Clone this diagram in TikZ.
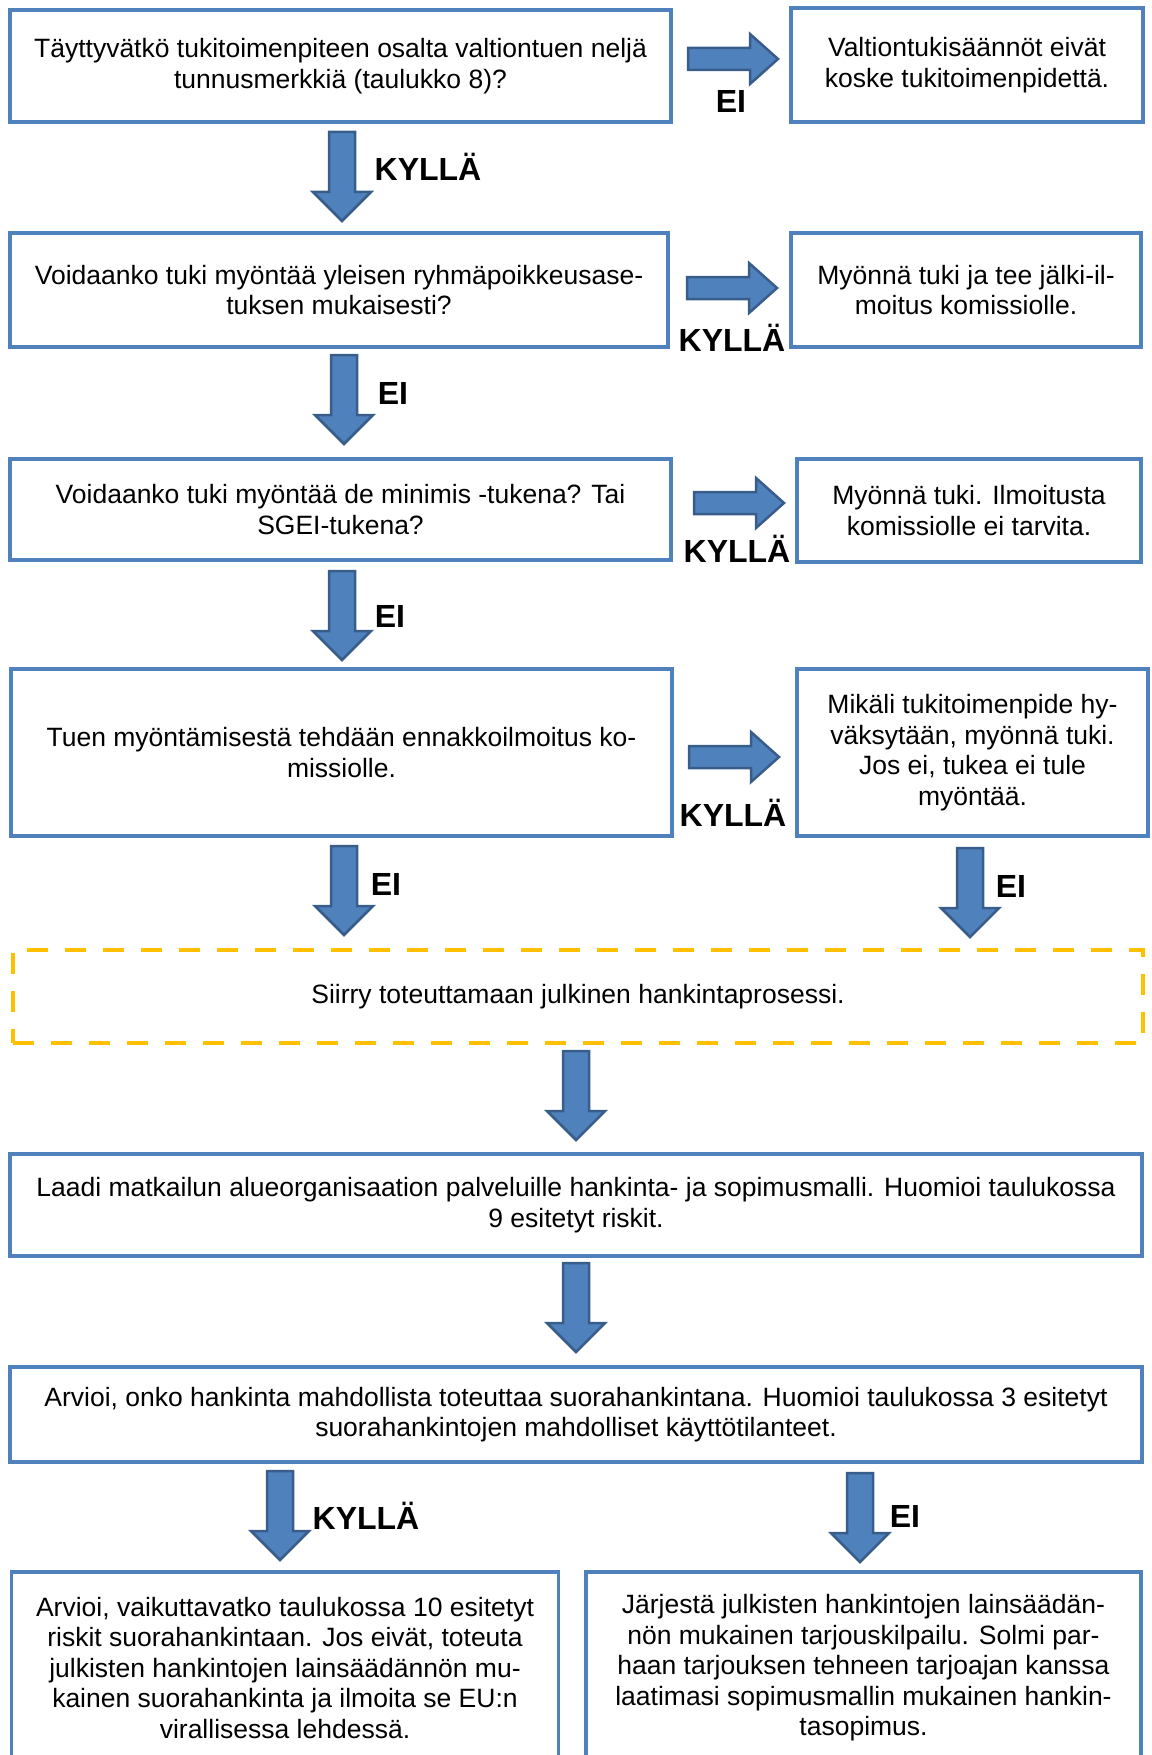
\documentclass[tikz,border=0pt]{standalone}
\usepackage{fontspec}
\setmainfont{Liberation Sans}
\usetikzlibrary{positioning}

\definecolor{boxblue}{HTML}{4F81BD}
\definecolor{arrowedge}{HTML}{385D8A}
\definecolor{dashyellow}{HTML}{FFC000}

\begin{document}
\begin{tikzpicture}[
  x=0.5pt, y=-0.5pt,
  every node/.style={font=\fontsize{13.25}{15.25}\selectfont},
  size/.style 2 args={minimum width=#1*0.5pt, minimum height=#2*0.5pt},
  stepbox/.style={rectangle, draw=boxblue, line width=1.75pt, fill=white,
                  align=center, inner sep=0pt},
  dashbox/.style={rectangle, draw=dashyellow, line width=2pt,
                  dash pattern=on 10.5pt off 8.5pt, align=center, inner sep=0pt},
  answer/.style={font=\bfseries\fontsize{16}{19}\selectfont, inner sep=0pt},
  barrow/.style={fill=boxblue, draw=arrowedge, line width=1.25pt, line join=miter},
  downarr/.pic={\draw[barrow] (-13,0) -- (13,0) -- (13,60) -- (29,60) -- (0,89)
                 -- (-29,60) -- (-13,60) -- cycle;},
  rightarr/.pic={\draw[barrow] (0,-11) -- (62,-11) -- (62,-25) -- (90,0)
                 -- (62,25) -- (62,11) -- (0,11) -- cycle;}
]
\clip (0,0) rectangle (1151,1755);

% ==========================================================
% Steps
% ==========================================================
\node[stepbox, size={661}{112}] (Tunnus) at (340.5,66) {Täyttyvätkö tukitoimenpiteen osalta valtiontuen neljä\\tunnusmerkkiä (taulukko 8)?};
\node[stepbox, size={352}{114}] (EiKoske) at (967,65) {Valtiontukisäännöt eivät\\koske tukitoimenpidettä.};
\node[stepbox, size={658}{114}] (Ryhma) at (339,290) {Voidaanko tuki myöntää yleisen ryhmäpoikkeusase-\\tuksen mukaisesti?};
\node[stepbox, size={350}{114}] (JalkiIlm) at (966,290) {Myönnä tuki ja tee jälki-il-\\moitus komissiolle.};
\node[stepbox, size={661}{101}] (DeMinimis) at (340.5,509.5) {Voidaanko tuki myöntää de minimis -tukena? Tai\\SGEI-tukena?};
\node[stepbox, size={344}{103}] (EiTarvita) at (969,510.5) {Myönnä tuki. Ilmoitusta\\komissiolle ei tarvita.};
\node[stepbox, size={661}{167}] (Ennakko) at (341.5,752.5) {Tuen myöntämisestä tehdään ennakkoilmoitus ko-\\missiolle.};
\node[stepbox, size={351}{167}] (Hyvaksynta) at (972.5,752.5) {Mikäli tukitoimenpide hy-\\väksytään, myönnä tuki.\\Jos ei, tukea ei tule\\myöntää.};
\node[dashbox, size={1130}{93}] (Hankinta) at (578,996.5) {Siirry toteuttamaan julkinen hankintaprosessi.};
\node[stepbox, size={1132}{102}] (Malli) at (576,1205) {Laadi matkailun alueorganisaation palveluille hankinta- ja sopimusmalli. Huomioi taulukossa\\9 esitetyt riskit.};
\node[stepbox, size={1132}{95}] (Suora) at (576,1414.5) {Arvioi, onko hankinta mahdollista toteuttaa suorahankintana. Huomioi taulukossa 3 esitetyt\\suorahankintojen mahdolliset käyttötilanteet.};
\node[stepbox, size={547}{192}] (Riskit) at (285,1668) {Arvioi, vaikuttavatko taulukossa 10 esitetyt\\riskit suorahankintaan. Jos eivät, toteuta\\julkisten hankintojen lainsäädännön mu-\\kainen suorahankinta ja ilmoita se EU:n\\virallisessa lehdessä.};
\node[stepbox, size={555}{192}] (Kilpailu) at (863.5,1668) {Järjestä julkisten hankintojen lainsäädän-\\nön mukainen tarjouskilpailu. Solmi par-\\haan tarjouksen tehneen tarjoajan kanssa\\laatimasi sopimusmallin mukainen hankin-\\tasopimus.};

% ==========================================================
% Block arrows
% ==========================================================
\coordinate (aR1) at (688,59);
\coordinate (aD1) at (342,132);
\coordinate (aR2) at (687,288);
\coordinate (aD2) at (344,355);
\coordinate (aR3) at (694,503);
\coordinate (aD3) at (342,571);
\coordinate (aR4) at (689,757);
\coordinate (aD4) at (344,846);
\coordinate (aD5) at (970,848);
\coordinate (aD6) at (576,1051);
\coordinate (aD7) at (576,1263);
\coordinate (aD8) at (280,1471);
\coordinate (aD9) at (860,1473);

\pic at (aR1) {rightarr};
\pic at (aD1) {downarr};
\pic at (aR2) {rightarr};
\pic at (aD2) {downarr};
\pic at (aR3) {rightarr};
\pic at (aD3) {downarr};
\pic at (aR4) {rightarr};
\pic at (aD4) {downarr};
\pic at (aD5) {downarr};
\pic at (aD6) {downarr};
\pic at (aD7) {downarr};
\pic at (aD8) {downarr};
\pic at (aD9) {downarr};

% ==========================================================
% Answers
% ==========================================================
\node[answer] (lEi1) at (731,101) {EI};
\node[answer] (lKylla1) at (428,167) {KYLLÄ};
\node[answer] (lKylla2) at (732,338) {KYLLÄ};
\node[answer] (lEi2) at (393,393) {EI};
\node[answer] (lKylla3) at (737,549) {KYLLÄ};
\node[answer] (lEi3) at (390,616) {EI};
\node[answer] (lKylla4) at (733,813) {KYLLÄ};
\node[answer] (lEi4) at (386,884) {EI};
\node[answer] (lEi5) at (1011,886) {EI};
\node[answer] (lKylla5) at (366,1516) {KYLLÄ};
\node[answer] (lEi6) at (905,1516) {EI};

\end{tikzpicture}
\end{document}
